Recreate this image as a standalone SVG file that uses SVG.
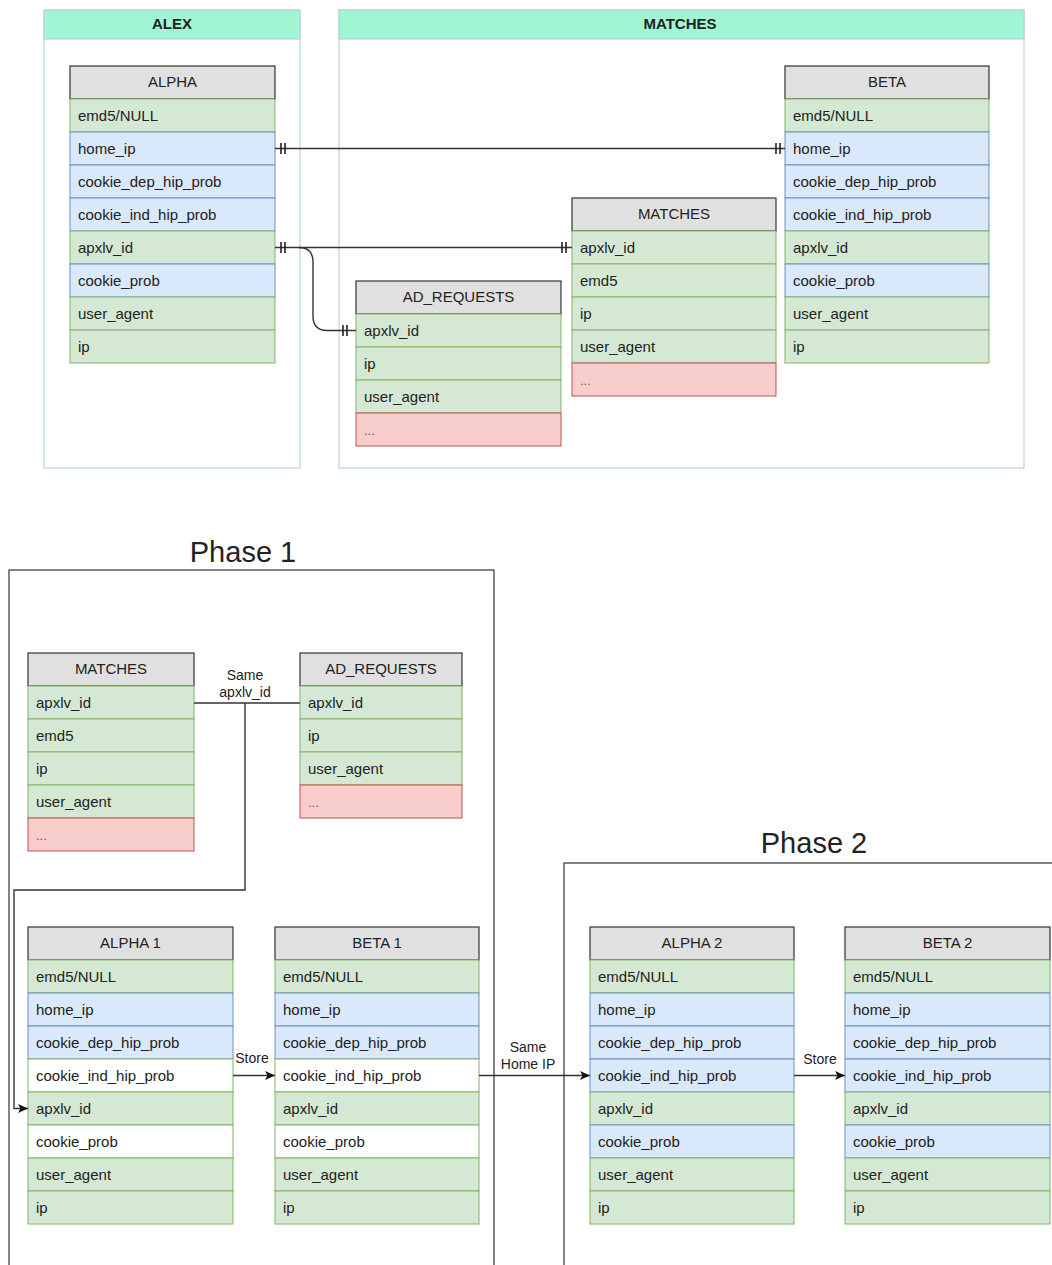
<svg xmlns="http://www.w3.org/2000/svg" width="1052" height="1265" viewBox="0 0 1052 1265">
<defs>
<marker id="arr" viewBox="0 0 10 10" refX="10" refY="5" markerWidth="10" markerHeight="10" markerUnits="userSpaceOnUse" orient="auto">
<path d="M0,0.5 L10,5 L0,9.5 L2.5,5 z" fill="#111"/>
</marker>
</defs>
<style>
text{font-family:"Liberation Sans",Arial,Helvetica,sans-serif;fill:#222}
.hd{fill:#e0e0e0;stroke:#333;stroke-width:1.2}
.g{fill:#d5e8d4;stroke:#82b366;stroke-width:1}
.b{fill:#dae8fc;stroke:#6c8ebf;stroke-width:1}
.r{fill:#f8cecc;stroke:#b85450;stroke-width:1}
.w{fill:#ffffff;stroke:#82b366;stroke-width:1}
.ht{font-size:15px;text-anchor:middle}
.rt{font-size:15px}
.dots{font-size:13px;fill:#8a4a4a}
.cont{fill:#ffffff;stroke:#b9d3dc;stroke-width:1.2}
.conth{fill:#a0f5d2;stroke:#b9d3dc;stroke-width:1.2}
.ct{font-size:15px;font-weight:bold;text-anchor:middle}
.phase{fill:none;stroke:#333;stroke-width:1.2}
.pt{font-size:29px;text-anchor:middle}
.ln{fill:none;stroke:#333;stroke-width:1.4}
.bar{fill:none;stroke:#222;stroke-width:1.6}
.lbl{font-size:14px;text-anchor:middle}
</style>

<!-- containers -->
<g id="alex">
<rect class="cont" x="44" y="10" width="256" height="458"/>
<rect class="conth" x="44" y="10" width="256" height="29"/>
<text class="ct" x="172" y="29">ALEX</text>
</g>
<g id="matches-container">
<rect class="cont" x="339" y="10" width="685" height="458"/>
<rect class="conth" x="339" y="10" width="685" height="29"/>
<text class="ct" x="680" y="29">MATCHES</text>
</g>

<!-- phase boxes -->
<g id="phase1">
<rect class="phase" x="9" y="570" width="485" height="720"/>
<text class="pt" x="243" y="562">Phase 1</text>
</g>
<g id="phase2">
<rect class="phase" x="564" y="863" width="520" height="450"/>
<text class="pt" x="814" y="853">Phase 2</text>
</g>

<!-- ALPHA -->
<g id="alpha">
<rect class="hd" x="70" y="66" width="205" height="33"/><text class="ht" x="172.5" y="87">ALPHA</text>
<rect class="g" x="70" y="99" width="205" height="33"/><text class="rt" x="78" y="121">emd5/NULL</text>
<rect class="b" x="70" y="132" width="205" height="33"/><text class="rt" x="78" y="154">home_ip</text>
<rect class="b" x="70" y="165" width="205" height="33"/><text class="rt" x="78" y="187">cookie_dep_hip_prob</text>
<rect class="b" x="70" y="198" width="205" height="33"/><text class="rt" x="78" y="220">cookie_ind_hip_prob</text>
<rect class="g" x="70" y="231" width="205" height="33"/><text class="rt" x="78" y="253">apxlv_id</text>
<rect class="b" x="70" y="264" width="205" height="33"/><text class="rt" x="78" y="286">cookie_prob</text>
<rect class="g" x="70" y="297" width="205" height="33"/><text class="rt" x="78" y="319">user_agent</text>
<rect class="g" x="70" y="330" width="205" height="33"/><text class="rt" x="78" y="352">ip</text>
</g>

<!-- BETA -->
<g id="beta">
<rect class="hd" x="785" y="66" width="204" height="33"/><text class="ht" x="887" y="87">BETA</text>
<rect class="g" x="785" y="99" width="204" height="33"/><text class="rt" x="793" y="121">emd5/NULL</text>
<rect class="b" x="785" y="132" width="204" height="33"/><text class="rt" x="793" y="154">home_ip</text>
<rect class="b" x="785" y="165" width="204" height="33"/><text class="rt" x="793" y="187">cookie_dep_hip_prob</text>
<rect class="b" x="785" y="198" width="204" height="33"/><text class="rt" x="793" y="220">cookie_ind_hip_prob</text>
<rect class="g" x="785" y="231" width="204" height="33"/><text class="rt" x="793" y="253">apxlv_id</text>
<rect class="b" x="785" y="264" width="204" height="33"/><text class="rt" x="793" y="286">cookie_prob</text>
<rect class="g" x="785" y="297" width="204" height="33"/><text class="rt" x="793" y="319">user_agent</text>
<rect class="g" x="785" y="330" width="204" height="33"/><text class="rt" x="793" y="352">ip</text>
</g>

<!-- MATCHES table -->
<g id="matches">
<rect class="hd" x="572" y="198" width="204" height="33"/><text class="ht" x="674" y="219">MATCHES</text>
<rect class="g" x="572" y="231" width="204" height="33"/><text class="rt" x="580" y="253">apxlv_id</text>
<rect class="g" x="572" y="264" width="204" height="33"/><text class="rt" x="580" y="286">emd5</text>
<rect class="g" x="572" y="297" width="204" height="33"/><text class="rt" x="580" y="319">ip</text>
<rect class="g" x="572" y="330" width="204" height="33"/><text class="rt" x="580" y="352">user_agent</text>
<rect class="r" x="572" y="363" width="204" height="33"/><text class="dots" x="580" y="385">...</text>
</g>

<!-- AD_REQUESTS table -->
<g id="ad-requests">
<rect class="hd" x="356" y="281" width="205" height="33"/><text class="ht" x="458.5" y="302">AD_REQUESTS</text>
<rect class="g" x="356" y="314" width="205" height="33"/><text class="rt" x="364" y="336">apxlv_id</text>
<rect class="g" x="356" y="347" width="205" height="33"/><text class="rt" x="364" y="369">ip</text>
<rect class="g" x="356" y="380" width="205" height="33"/><text class="rt" x="364" y="402">user_agent</text>
<rect class="r" x="356" y="413" width="205" height="33"/><text class="dots" x="364" y="435">...</text>
</g>

<!-- Phase 1 MATCHES -->
<g id="p1-matches">
<rect class="hd" x="28" y="653" width="166" height="33"/><text class="ht" x="111" y="674">MATCHES</text>
<rect class="g" x="28" y="686" width="166" height="33"/><text class="rt" x="36" y="708">apxlv_id</text>
<rect class="g" x="28" y="719" width="166" height="33"/><text class="rt" x="36" y="741">emd5</text>
<rect class="g" x="28" y="752" width="166" height="33"/><text class="rt" x="36" y="774">ip</text>
<rect class="g" x="28" y="785" width="166" height="33"/><text class="rt" x="36" y="807">user_agent</text>
<rect class="r" x="28" y="818" width="166" height="33"/><text class="dots" x="36" y="840">...</text>
</g>

<!-- Phase 1 AD_REQUESTS -->
<g id="p1-ad-requests">
<rect class="hd" x="300" y="653" width="162" height="33"/><text class="ht" x="381" y="674">AD_REQUESTS</text>
<rect class="g" x="300" y="686" width="162" height="33"/><text class="rt" x="308" y="708">apxlv_id</text>
<rect class="g" x="300" y="719" width="162" height="33"/><text class="rt" x="308" y="741">ip</text>
<rect class="g" x="300" y="752" width="162" height="33"/><text class="rt" x="308" y="774">user_agent</text>
<rect class="r" x="300" y="785" width="162" height="33"/><text class="dots" x="308" y="807">...</text>
</g>

<!-- ALPHA 1 -->
<g id="alpha1">
<rect class="hd" x="28" y="927" width="205" height="33"/><text class="ht" x="130.5" y="948">ALPHA 1</text>
<rect class="g" x="28" y="960" width="205" height="33"/><text class="rt" x="36" y="982">emd5/NULL</text>
<rect class="b" x="28" y="993" width="205" height="33"/><text class="rt" x="36" y="1015">home_ip</text>
<rect class="b" x="28" y="1026" width="205" height="33"/><text class="rt" x="36" y="1048">cookie_dep_hip_prob</text>
<rect class="w" x="28" y="1059" width="205" height="33"/><text class="rt" x="36" y="1081">cookie_ind_hip_prob</text>
<rect class="g" x="28" y="1092" width="205" height="33"/><text class="rt" x="36" y="1114">apxlv_id</text>
<rect class="w" x="28" y="1125" width="205" height="33"/><text class="rt" x="36" y="1147">cookie_prob</text>
<rect class="g" x="28" y="1158" width="205" height="33"/><text class="rt" x="36" y="1180">user_agent</text>
<rect class="g" x="28" y="1191" width="205" height="33"/><text class="rt" x="36" y="1213">ip</text>
</g>

<!-- BETA 1 -->
<g id="beta1">
<rect class="hd" x="275" y="927" width="204" height="33"/><text class="ht" x="377" y="948">BETA 1</text>
<rect class="g" x="275" y="960" width="204" height="33"/><text class="rt" x="283" y="982">emd5/NULL</text>
<rect class="b" x="275" y="993" width="204" height="33"/><text class="rt" x="283" y="1015">home_ip</text>
<rect class="b" x="275" y="1026" width="204" height="33"/><text class="rt" x="283" y="1048">cookie_dep_hip_prob</text>
<rect class="w" x="275" y="1059" width="204" height="33"/><text class="rt" x="283" y="1081">cookie_ind_hip_prob</text>
<rect class="g" x="275" y="1092" width="204" height="33"/><text class="rt" x="283" y="1114">apxlv_id</text>
<rect class="w" x="275" y="1125" width="204" height="33"/><text class="rt" x="283" y="1147">cookie_prob</text>
<rect class="g" x="275" y="1158" width="204" height="33"/><text class="rt" x="283" y="1180">user_agent</text>
<rect class="g" x="275" y="1191" width="204" height="33"/><text class="rt" x="283" y="1213">ip</text>
</g>

<!-- ALPHA 2 -->
<g id="alpha2">
<rect class="hd" x="590" y="927" width="204" height="33"/><text class="ht" x="692" y="948">ALPHA 2</text>
<rect class="g" x="590" y="960" width="204" height="33"/><text class="rt" x="598" y="982">emd5/NULL</text>
<rect class="b" x="590" y="993" width="204" height="33"/><text class="rt" x="598" y="1015">home_ip</text>
<rect class="b" x="590" y="1026" width="204" height="33"/><text class="rt" x="598" y="1048">cookie_dep_hip_prob</text>
<rect class="b" x="590" y="1059" width="204" height="33"/><text class="rt" x="598" y="1081">cookie_ind_hip_prob</text>
<rect class="g" x="590" y="1092" width="204" height="33"/><text class="rt" x="598" y="1114">apxlv_id</text>
<rect class="b" x="590" y="1125" width="204" height="33"/><text class="rt" x="598" y="1147">cookie_prob</text>
<rect class="g" x="590" y="1158" width="204" height="33"/><text class="rt" x="598" y="1180">user_agent</text>
<rect class="g" x="590" y="1191" width="204" height="33"/><text class="rt" x="598" y="1213">ip</text>
</g>

<!-- BETA 2 -->
<g id="beta2">
<rect class="hd" x="845" y="927" width="205" height="33"/><text class="ht" x="947.5" y="948">BETA 2</text>
<rect class="g" x="845" y="960" width="205" height="33"/><text class="rt" x="853" y="982">emd5/NULL</text>
<rect class="b" x="845" y="993" width="205" height="33"/><text class="rt" x="853" y="1015">home_ip</text>
<rect class="b" x="845" y="1026" width="205" height="33"/><text class="rt" x="853" y="1048">cookie_dep_hip_prob</text>
<rect class="b" x="845" y="1059" width="205" height="33"/><text class="rt" x="853" y="1081">cookie_ind_hip_prob</text>
<rect class="g" x="845" y="1092" width="205" height="33"/><text class="rt" x="853" y="1114">apxlv_id</text>
<rect class="b" x="845" y="1125" width="205" height="33"/><text class="rt" x="853" y="1147">cookie_prob</text>
<rect class="g" x="845" y="1158" width="205" height="33"/><text class="rt" x="853" y="1180">user_agent</text>
<rect class="g" x="845" y="1191" width="205" height="33"/><text class="rt" x="853" y="1213">ip</text>
</g>

<!-- connectors -->
<g id="connectors">
<!-- home_ip ALPHA to BETA -->
<path class="ln" d="M275,148.5 L785,148.5"/>
<path class="bar" d="M281,143 V154 M285,143 V154 M776,143 V154 M780,143 V154"/>
<!-- apxlv_id ALPHA to MATCHES -->
<path class="ln" d="M275,247.5 L572,247.5"/>
<path class="bar" d="M281,242 V253 M285,242 V253 M562,242 V253 M566,242 V253"/>
<!-- apxlv_id ALPHA to AD_REQUESTS -->
<path class="ln" d="M299,247.5 Q313,247.5 313,262 L313,316 Q313,330.5 327,330.5 L356,330.5"/>
<path class="bar" d="M343,325 V336 M347,325 V336"/>
<!-- Phase 1: same apxlv_id -->
<path class="ln" d="M194,703 L300,703"/>
<path class="ln" d="M245,703 L245,890 L14,890 L14,1108.5 L28,1108.5" marker-end="url(#arr)"/>
<text class="lbl" x="245" y="680">Same</text>
<text class="lbl" x="245" y="697">apxlv_id</text>
<!-- Store 1 -->
<path class="ln" d="M233,1075.5 L275,1075.5" marker-end="url(#arr)"/>
<text class="lbl" x="252" y="1063">Store</text>
<!-- Same Home IP -->
<path class="ln" d="M479,1075.5 L590,1075.5" marker-end="url(#arr)"/>
<text class="lbl" x="528" y="1052">Same</text>
<text class="lbl" x="528" y="1069">Home IP</text>
<!-- Store 2 -->
<path class="ln" d="M794,1075.5 L845,1075.5" marker-end="url(#arr)"/>
<text class="lbl" x="820" y="1064">Store</text>
</g>
</svg>
